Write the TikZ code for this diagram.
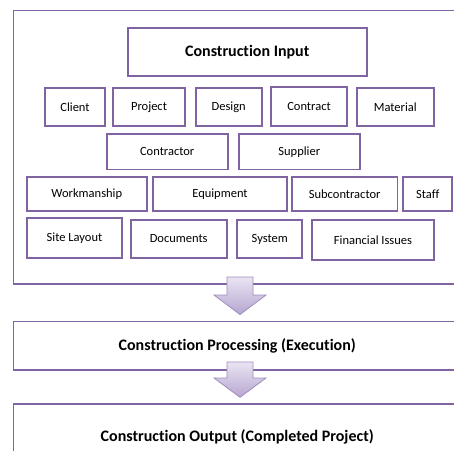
\documentclass[tikz,border=0pt]{standalone}
\usepackage{fontspec}
\setmainfont{Carlito}[Ligatures=NoCommon]
\usepackage{tikz}

\definecolor{boxpurple}{RGB}{128,100,162}
\definecolor{arrowtop}{RGB}{234,228,242}
\definecolor{arrowbot}{RGB}{182,166,208}
\definecolor{arrowline}{RGB}{160,140,192}

\begin{document}
\begin{tikzpicture}[x=1pt,y=-1pt,
  box/.style={draw=boxpurple,line width=1.7pt,fill=white,inner sep=0pt,font=\fontsize{12.5}{14}\selectfont},
  bigbox/.style={draw=boxpurple,line width=1.4pt,inner sep=0pt,font=\bfseries\fontsize{16}{18}\selectfont},
  blockarrow/.style={draw=arrowline,line width=0.8pt,top color=arrowtop,bottom color=arrowbot}]
\useasboundingbox (0,0) rectangle (454,450);

% outer frame and the two lower stages
\node[bigbox,minimum width=447.5pt,minimum height=273.5pt] (inbox) at (237.25,147.25) {};
\node[bigbox,minimum width=447.5pt,minimum height=48.3pt] (process) at (237.25,345.85) {Construction Processing (Execution)};
\node[bigbox,minimum width=447.5pt,minimum height=66pt] (output) at (237.25,437) {Construction Output (Completed Project)};

% title
\node[bigbox,line width=2pt,minimum width=239pt,minimum height=48.3pt] (title) at (247.2,51.8) {Construction Input};

% row 1
\node[box,minimum width=60pt,minimum height=37.7pt] (client) at (75,106.8) {Client};
\node[box,minimum width=72pt,minimum height=37.7pt] (project) at (149,106.8) {Project};
\node[box,minimum width=66pt,minimum height=37.7pt] (design) at (228.7,106.8) {Design};
\node[box,minimum width=76.6pt,minimum height=39pt] (contract) at (309,106.2) {Contract};
\node[box,minimum width=77.3pt,minimum height=37.7pt] (material) at (395.3,106.8) {Material};

% row 2
\node[box,minimum width=121pt,minimum height=35.3pt] (contractor) at (167.2,151.7) {Contractor};
\node[box,minimum width=121.3pt,minimum height=35.3pt] (supplier) at (299.3,151.7) {Supplier};

% row 3
\node[box,minimum width=120.3pt,minimum height=34.3pt] (workmanship) at (86.8,193.8) {Workmanship};
\node[box,minimum width=134.6pt,minimum height=34.3pt] (equipment) at (220,193.8) {Equipment};
\node[box,minimum width=105.3pt,minimum height=34.3pt] (subcontractor) at (344.7,193.8) {Subcontractor};
\node[box,minimum width=49pt,minimum height=34.3pt] (staff) at (427.8,193.8) {Staff};

% row 4
\node[box,minimum width=94.4pt,minimum height=40pt] (sitelayout) at (74.5,238.2) {Site Layout};
\node[box,minimum width=96pt,minimum height=38pt] (documents) at (178.7,239) {Documents};
\node[box,minimum width=65pt,minimum height=38pt] (system) at (269.8,239) {System};
\node[box,minimum width=122pt,minimum height=40pt] (financial) at (373,240) {Financial Issues};

% block arrows between the stages
\coordinate (a1) at (240,284);
\coordinate (a2) at (240,370);
\draw[blockarrow] ([xshift=-13pt,yshift=7pt]a1) -- ([xshift=13pt,yshift=7pt]a1) -- ([xshift=13pt,yshift=-11pt]a1)
  -- ([xshift=26pt,yshift=-11pt]a1) -- ([yshift=6.5pt]process.north -| a1) -- ([xshift=-26pt,yshift=-11pt]a1)
  -- ([xshift=-13pt,yshift=-11pt]a1) -- cycle;
\draw[blockarrow] ([xshift=-13pt,yshift=8pt]a2) -- ([xshift=13pt,yshift=8pt]a2) -- ([xshift=13pt,yshift=-8pt]a2)
  -- ([xshift=26pt,yshift=-8pt]a2) -- ([yshift=6pt]output.north -| a2) -- ([xshift=-26pt,yshift=-8pt]a2)
  -- ([xshift=-13pt,yshift=-8pt]a2) -- cycle;

\end{tikzpicture}
\end{document}
